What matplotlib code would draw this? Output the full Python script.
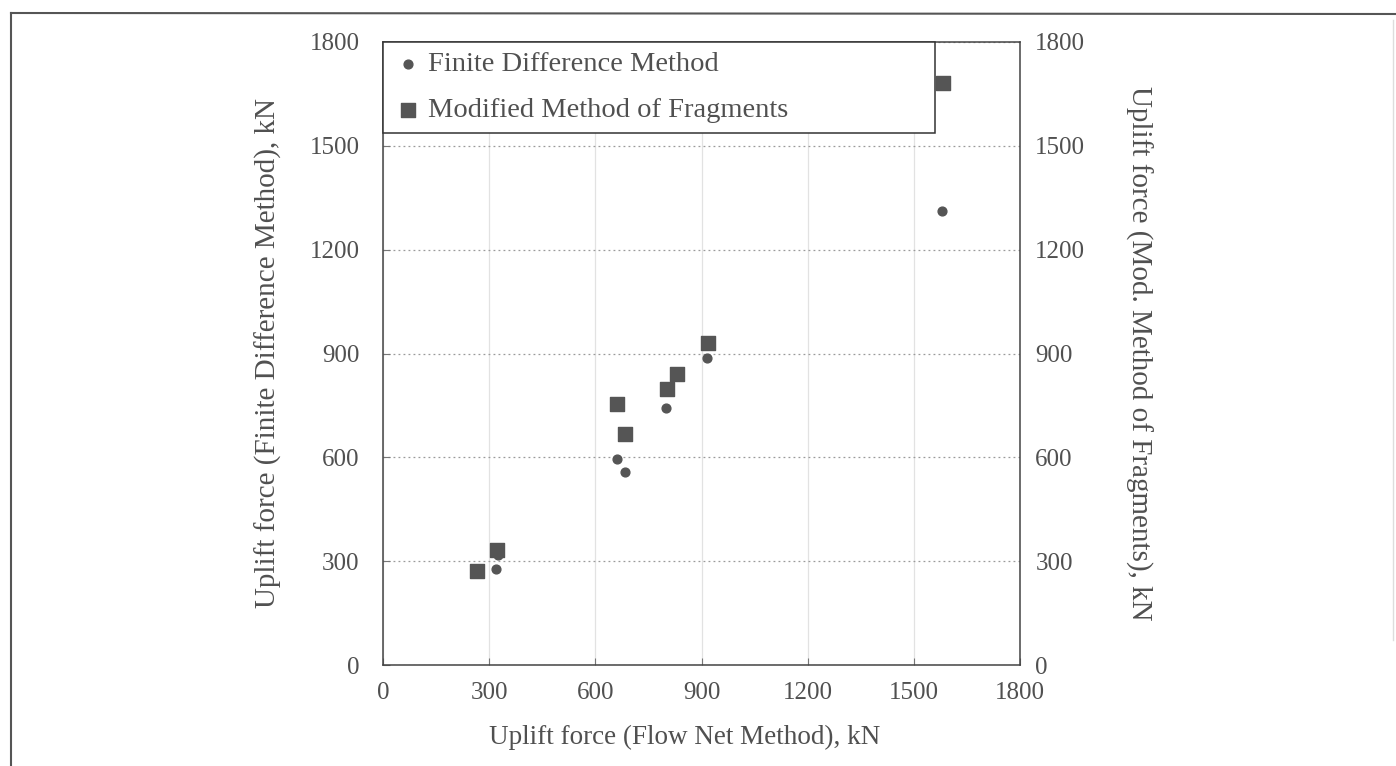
import matplotlib
matplotlib.use("Agg")
import matplotlib.pyplot as plt
from matplotlib.lines import Line2D

# Data (kN)
fdm_x = [319, 326, 660, 683, 801, 830, 916, 1580]
fdm_y = [277, 318, 594, 558, 743, 845, 888, 1312]
mmf_x = [265, 321, 662, 685, 803, 830, 919, 1582]
mmf_y = [272, 332, 753, 667, 797, 840, 929, 1681]
ticks = [0, 300, 600, 900, 1200, 1500, 1800]

plt.rcParams['font.family'] = ['Liberation Serif', 'DejaVu Serif']
txt = '#505050'
mk = '#555555'

W, H = 1396, 766
fig = plt.figure(figsize=(W / 100, H / 100), dpi=100)
ax = fig.add_axes([383 / W, 1 - 665 / H, 637 / W, 623 / H])

ax.scatter(fdm_x, fdm_y, marker='o', s=40, color=mk, zorder=3,
           label='Finite Difference Method')
ax.scatter(mmf_x, mmf_y, marker='s', s=110, color=mk, zorder=3,
           label='Modified Method of Fragments')

ax.set_xlim(0, 1800)
ax.set_ylim(0, 1800)
ax.set_xticks(ticks)
ax.set_yticks(ticks)
ax.set_xticklabels([str(t) for t in ticks])
ax.set_yticklabels([str(t) for t in ticks])

ax.yaxis.grid(True, linestyle=(0, (1.5, 2.5)), color='#9a9a9a', linewidth=0.9)
ax.xaxis.grid(True, linestyle='-', color='#e2e2e2', linewidth=0.9)
ax.set_axisbelow(True)

for s in ax.spines.values():
    s.set_color('#444444')
    s.set_linewidth(1.1)

ax.tick_params(axis='both', direction='in', length=5, color='#777777',
               labelsize=18, labelcolor=txt)
ax.tick_params(axis='y', pad=17)
ax.tick_params(axis='x', pad=12)

ax.set_xlabel('Uplift force (Flow Net Method), kN', fontsize=19.5, color=txt, labelpad=15)
ax.xaxis.label.set_x((685 - 383) / 637)
ax.set_ylabel('Uplift force (Finite Difference Method), kN', fontsize=21, color=txt, labelpad=20)

ax2 = ax.twinx()
ax2.set_ylim(0, 1800)
ax2.set_yticks(ticks)
ax2.set_yticklabels([str(t) for t in ticks])
ax2.tick_params(axis='y', direction='in', length=0, labelsize=18, labelcolor=txt, pad=11)
for s in ax2.spines.values():
    s.set_visible(False)
ax2.set_ylabel('Uplift force (Mod. Method of Fragments), kN', fontsize=21, color=txt,
               rotation=270, labelpad=48)

leg = ax.legend(loc='upper left', bbox_to_anchor=(0, 1, 552 / 637, 0), mode='expand',
                borderaxespad=0, fancybox=False, frameon=True, fontsize=20.5,
                labelspacing=0.72, handlelength=1.1, handletextpad=0.15,
                borderpad=0.32, labelcolor=txt)
leg.get_frame().set_edgecolor('#333333')
leg.get_frame().set_linewidth(1.1)
leg.get_frame().set_alpha(1)

# scanned page frame
fig.add_artist(Line2D([11 / W, 11 / W], [0, 1 - 13 / H], transform=fig.transFigure,
                      color='#555555', linewidth=1.5))
fig.add_artist(Line2D([11 / W, 1], [1 - 13 / H, 1 - 14 / H], transform=fig.transFigure,
                      color='#555555', linewidth=1.5))
fig.add_artist(Line2D([1393 / W, 1393 / W], [1 - 640 / H, 1 - 20 / H], transform=fig.transFigure,
                      color='#dddddd', linewidth=1.0))

fig.savefig('out.png', dpi=100)
